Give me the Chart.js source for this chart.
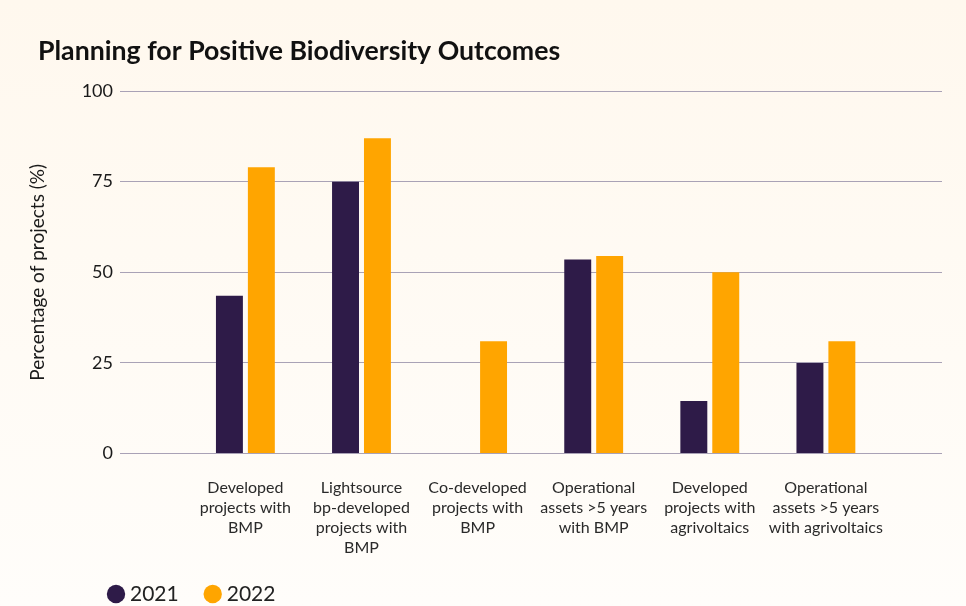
<!DOCTYPE html>
<html>
<head>
<meta charset="utf-8">
<script src="https://cdn.jsdelivr.net/npm/chart.js@4.4.1/dist/chart.umd.min.js"></script>
<style>
  html, body { margin: 0; padding: 0; }
  body { width: 966px; height: 606px; background: linear-gradient(#FFF8EE, #FFFDFA); overflow: hidden; }
</style>
</head>
<body>
<canvas id="bioChart" width="966" height="606"></canvas>
<script>
// categories (multi-line labels as drawn under the bars)
const categories = [
  ['Developed', 'projects with', 'BMP'],
  ['Lightsource', 'bp-developed', 'projects with', 'BMP'],
  ['Co-developed', 'projects with', 'BMP'],
  ['Operational', 'assets >5 years', 'with BMP'],
  ['Developed', 'projects with', 'agrivoltaics'],
  ['Operational', 'assets >5 years', 'with agrivoltaics']
];
const values2021 = [43.5, 75, 0, 53.5, 14.5, 25];
const values2022 = [79, 87, 31, 54.5, 50, 31];
const yTicks = [0, 25, 50, 75, 100];

const DARK = '#2E1B48';
const ORANGE = '#FFA500';

Chart.defaults.font.family = 'Lato, "Open Sans", sans-serif';
Chart.defaults.color = '#222';

// move legend to where it sits in the original
const legendShift = {
  id: 'legendShift',
  afterLayout(chart) {
    const lg = chart.legend;
    const dx = 82 - lg.left, dy = 553 - lg.top;
    lg.left += dx; lg.right += dx;
    lg.top += dy; lg.bottom += dy;
  }
};

const toPoints = arr => arr.map((v, i) => ({ x: i + 1, y: v }));

const ctx = document.getElementById('bioChart').getContext('2d');
const bioChart = new Chart(ctx, {
  type: 'bar',
  data: {
    datasets: [
      { label: '2021', data: toPoints(values2021), backgroundColor: DARK, borderWidth: 0 },
      { label: '2022', data: toPoints(values2022), backgroundColor: ORANGE, borderWidth: 0 }
    ]
  },
  options: {
    responsive: false,
    animation: false,
    categoryPercentage: 0.55,
    barPercentage: 0.844,
    layout: { padding: { left: 38, right: 24, top: 0, bottom: -24 } },
    plugins: {
      title: {
        display: true,
        text: 'Planning for Positive Biodiversity Outcomes',
        align: 'start',
        color: '#111',
        font: { size: 26.7, weight: 'bold' },
        padding: { top: 35, bottom: 24 }
      },
      legend: {
        position: 'bottom',
        align: 'start',
        labels: {
          usePointStyle: true,
          pointStyle: 'circle',
          boxWidth: 7,
          boxHeight: 13,
          padding: 30.5,
          color: '#222',
          font: { size: 21 }
        }
      },
      tooltip: { enabled: false }
    },
    scales: {
      x: {
        type: 'linear',
        offset: false,
        min: -0.08,
        max: 7,
        grid: { display: false },
        border: { display: false },
        afterBuildTicks: scale => { scale.ticks = categories.map((c, i) => ({ value: i + 1 })); },
        afterFit: scale => { scale.height = 115; },
        ticks: {
          autoSkip: false,
          maxRotation: 0,
          padding: 16,
          color: '#2a2a2a',
          font: { size: 16, lineHeight: 1.25 },
          callback: value => categories[value - 1]
        }
      },
      y: {
        min: 0,
        max: 100,
        afterBuildTicks: scale => { scale.ticks = yTicks.map(v => ({ value: v })); },
        afterFit: scale => { scale.width = 82; },
        grid: { color: '#A9A2B6', lineWidth: 1, drawTicks: false },
        border: { display: false },
        ticks: { padding: 7, color: '#1a1a1a', font: { size: 18 } },
        title: {
          display: true,
          text: 'Percentage of projects (%)',
          color: '#1a1a1a',
          font: { size: 19 },
          padding: { top: -11.5, bottom: 0 }
        }
      }
    }
  },
  plugins: [legendShift]
});
</script>
</body>
</html>
